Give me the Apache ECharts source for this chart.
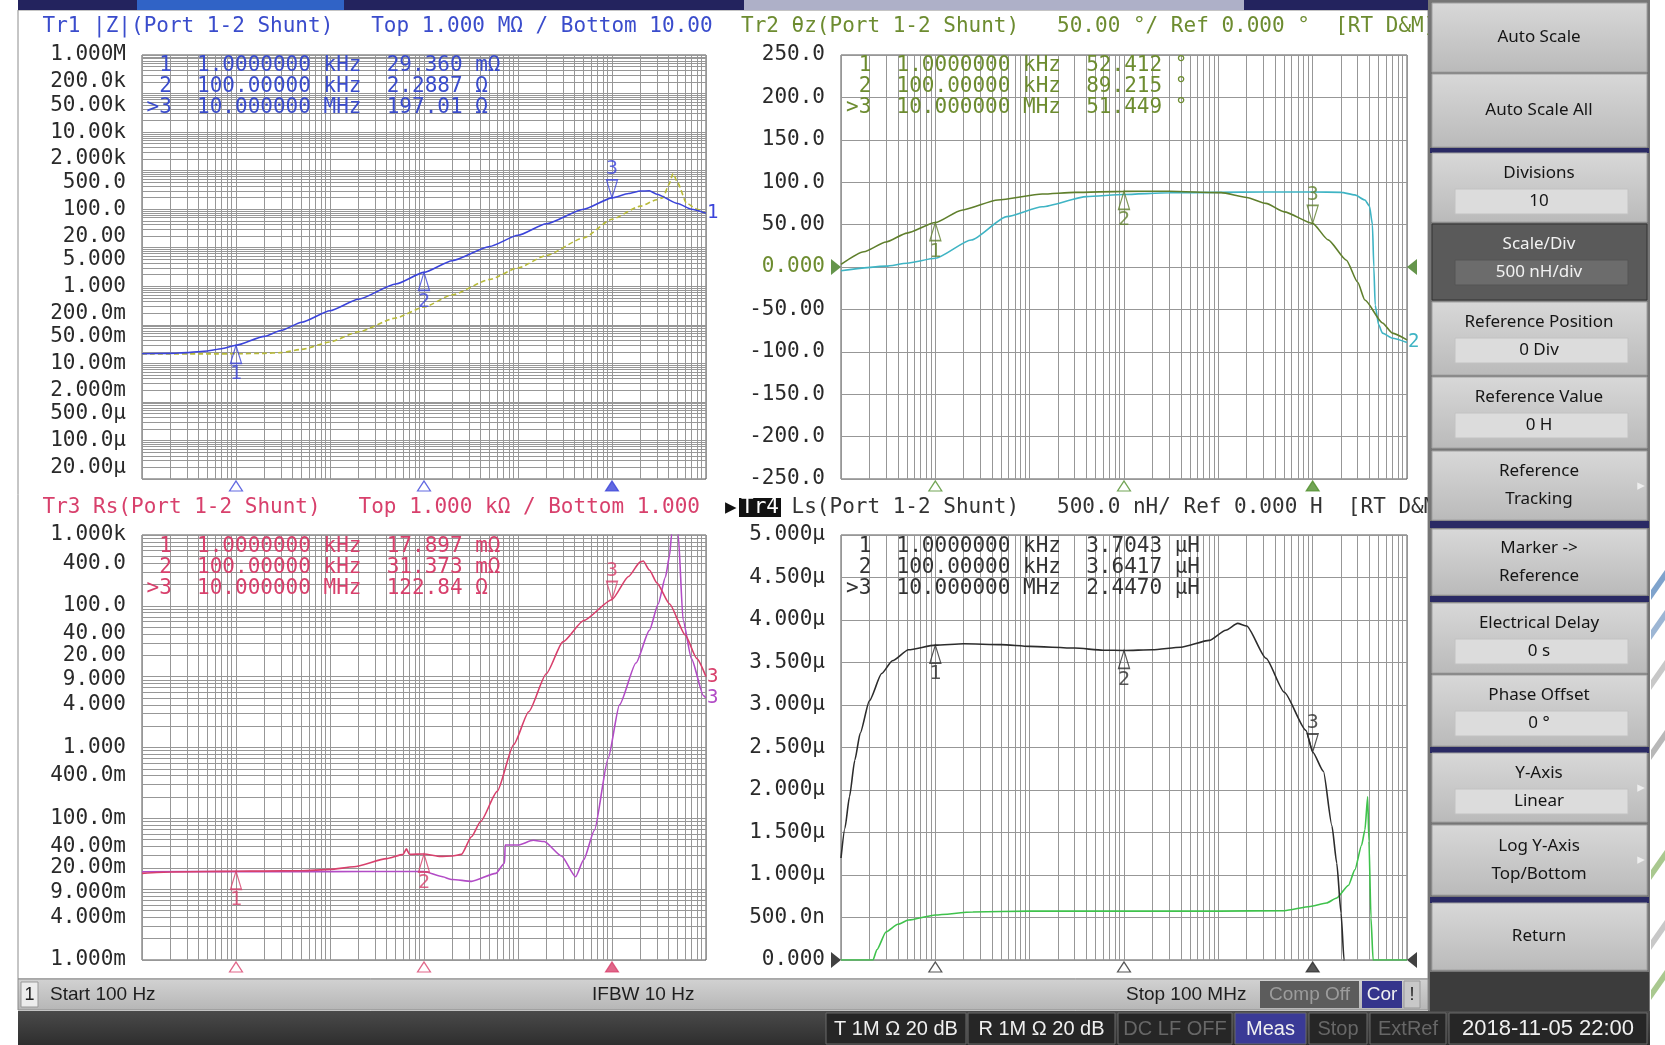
<!DOCTYPE html>
<html>
<head>
<meta charset="utf-8">
<title>E5061B impedance</title>
<script src="https://cdn.jsdelivr.net/npm/echarts@6/dist/echarts.min.js"></script>
<style>
    html, body {margin: 0; padding: 0; background: #fff;}
    #vna {width: 1665px; height: 1045px;}
</style>
</head>
<body>
<div id="vna"></div>
<script>
let vna_chart = echarts.init(document.getElementById('vna'));

// 标记点
let marker_freq = [1e3, 1e5, 1e7];
let tr1_marker = [0.02936, 2.2887, 197.01];
let tr2_marker = [52.412, 89.215, 51.449];
let tr3_marker = [0.017897, 0.031373, 122.84];
let tr4_marker = [3.7043, 3.6417, 2.4470];

// Tr1 |Z| (Ω) 实测 / 记忆
let tr1_freq = [100, 200, 300, 500, 700, 1e3, 2e3, 3e3, 5e3, 1e4, 2e4, 5e4, 1e5, 2e5, 5e5, 1e6, 2e6, 5e6, 1e7, 1.5e7, 2e7, 2.5e7, 3e7, 5e7, 7e7, 1e8];
let tr1_data = [0.0178, 0.0182, 0.019, 0.021, 0.024, 0.0294, 0.05, 0.071, 0.117, 0.232, 0.46, 1.15, 2.29, 4.6, 10.8, 21, 42, 100, 197, 255, 295, 300, 245, 140, 100, 78];
let tr1_mem_freq = [100, 500, 1e3, 2e3, 3e3, 5e3, 1e4, 2e4, 5e4, 1e5, 2e5, 5e5, 1e6, 2e6, 5e6, 1e7, 2e7, 3e7, 3.5e7, 4e7, 4.48e7, 5e7, 6.2e7, 8e7, 1e8];
let tr1_mem = [0.0176, 0.0176, 0.0177, 0.0182, 0.019, 0.023, 0.036, 0.066, 0.15, 0.29, 0.6, 1.5, 3.0, 6.3, 18, 55, 120, 175, 200, 420, 840, 480, 144, 100, 78];

// Tr2 θz (°)
let tr2_freq = [100, 175, 300, 500, 1e3, 1.9e3, 4.6e3, 1.36e4, 3e4, 1e5, 3e5, 1.07e6, 2e6, 3.2e6, 5e6, 1e7, 1.46e7, 2.28e7, 3e7, 3.58e7, 5.5e7, 7e7, 1e8];
let tr2_data = [3, 18, 29.5, 40, 52.4, 67, 79, 86, 88, 89.2, 89.3, 87.7, 82, 75, 65, 51.4, 32, 8, -18, -39, -66, -78, -86];
let tr2_mem_freq = [100, 300, 500, 1e3, 2.4e3, 5.7e3, 1.36e4, 4e4, 1e5, 3e5, 1e6, 3e6, 1e7, 2e7, 2.8e7, 3.58e7, 4e7, 4.3e7, 4.45e7, 4.6e7, 5e7, 5.5e7, 7e7, 1e8];
let tr2_mem = [-4.4, 1, 4.5, 10.3, 31.8, 59.4, 71, 83, 85.5, 87.5, 88, 88.5, 88.5, 88, 85, 79, 72, 50, 0, -45, -68, -78, -84, -89];

// Tr3 Rs (Ω)
let tr3_freq = [100, 200, 500, 1e3, 2e3, 5e3, 1e4, 1.8e4, 4e4, 6e4, 6.5e4, 7e4, 1e5, 1.5e5, 2e5, 2.5e5, 3.2e5, 4e5, 6e5, 9e5, 1.3e6, 2e6, 3e6, 5e6, 1e7, 1.5e7, 2e7, 2.15e7, 2.5e7, 3e7, 4.1e7, 6e7, 8e7, 1e8];
let tr3_data = [0.0167, 0.0175, 0.0178, 0.0179, 0.018, 0.0182, 0.019, 0.0207, 0.027, 0.031, 0.037, 0.031, 0.0314, 0.029, 0.0294, 0.031, 0.055, 0.09, 0.24, 1.1, 3.2, 11, 31, 62, 123, 260, 417, 430, 320, 211, 106, 39, 18, 10];
let tr3_mem_freq = [100, 1e3, 1e4, 5e4, 1e5, 1.5e5, 2e5, 3.2e5, 5.8e5, 7.2e5, 7.3e5, 1e6, 1.45e6, 1.9e6, 2.9e6, 4.1e6, 5e6, 6.5e6, 9.1e6, 1.2e7, 1.8e7, 2.5e7, 3.1e7, 3.7e7, 4.1e7, 4.3e7, 4.6e7, 5.07e7, 5.7e7, 7e7, 9.4e7, 1e8];
let tr3_mem = [0.0176, 0.0177, 0.0177, 0.0178, 0.0178, 0.0152, 0.0137, 0.0129, 0.0167, 0.0234, 0.042, 0.042, 0.049, 0.047, 0.0294, 0.015, 0.026, 0.068, 0.7, 4, 15.6, 45, 106, 254, 515, 1000, 2500, 1000, 63, 18, 5.4, 5];

// Tr4 Ls (μH)
let tr4_freq = [100, 110, 123, 140, 160, 200, 270, 350, 520, 1e3, 2e3, 5e3, 1e4, 3e4, 6e4, 1e5, 2e5, 4e5, 8e5, 1.2e6, 1.6e6, 2e6, 3.2e6, 5e6, 8.5e6, 1e7, 1.3e7, 1.6e7, 1.8e7, 2e7, 2.15e7, 2.3e7];
let tr4_data = [1.2, 1.55, 1.92, 2.35, 2.67, 3.05, 3.37, 3.52, 3.65, 3.704, 3.72, 3.71, 3.69, 3.67, 3.645, 3.642, 3.65, 3.68, 3.76, 3.88, 3.96, 3.93, 3.55, 3.15, 2.7, 2.447, 2.22, 1.58, 1.14, 0.55, 0, -0.6];
let tr4_mem_freq = [100, 218, 240, 300, 400, 520, 1e3, 2.5e3, 1e4, 1e5, 1e6, 5e6, 9.4e6, 1.4e7, 1.8e7, 2.4e7, 2.8e7, 3.3e7, 3.58e7, 3.83e7, 3.95e7, 4.15e7, 4.37e7, 1e8];
let tr4_mem = [0, 0, 0.12, 0.33, 0.42, 0.47, 0.53, 0.565, 0.575, 0.575, 0.575, 0.58, 0.63, 0.67, 0.73, 0.88, 1.06, 1.35, 1.53, 1.92, 1.4, 0.5, 0, 0];

// 纵轴刻度
let z_ticks = [1e6, 2e5, 5e4, 1e4, 2e3, 500, 100, 20, 5, 1, 0.2, 0.05, 0.01, 0.002, 5e-4, 1e-4, 2e-5];
let z_tick_text = ['1.000M', '200.0k', '50.00k', '10.00k', '2.000k', '500.0', '100.0', '20.00', '5.000', '1.000', '200.0m', '50.00m', '10.00m', '2.000m', '500.0μ', '100.0μ', '20.00μ'];
let theta_ticks = [250, 200, 150, 100, 50, 0, -50, -100, -150, -200, -250];
let theta_tick_text = ['250.0', '200.0', '150.0', '100.0', '50.00', '0.000', '-50.00', '-100.0', '-150.0', '-200.0', '-250.0'];
let rs_ticks = [1000, 400, 100, 40, 20, 9, 4, 1, 0.4, 0.1, 0.04, 0.02, 0.009, 0.004, 0.001];
let rs_tick_text = ['1.000k', '400.0', '100.0', '40.00', '20.00', '9.000', '4.000', '1.000', '400.0m', '100.0m', '40.00m', '20.00m', '9.000m', '4.000m', '1.000m'];
let ls_ticks = [5, 4.5, 4, 3.5, 3, 2.5, 2, 1.5, 1, 0.5, 0];
let ls_tick_text = ['5.000μ', '4.500μ', '4.000μ', '3.500μ', '3.000μ', '2.500μ', '2.000μ', '1.500μ', '1.000μ', '500.0n', '0.000'];

// 标题与标记读数
let titles = [
    'Tr1 |Z|(Port 1-2 Shunt)   Top 1.000 MΩ / Bottom 10.00',
    'Tr2 θz(Port 1-2 Shunt)   50.00 °/ Ref 0.000 °  [RT D&M]',
    'Tr3 Rs(Port 1-2 Shunt)   Top 1.000 kΩ / Bottom 1.000',
    'Ls(Port 1-2 Shunt)   500.0 nH/ Ref 0.000 H  [RT D&M]'
];
let readouts = [
    [' 1  1.0000000 kHz  29.360 mΩ', ' 2  100.00000 kHz  2.2887 Ω', '>3  10.000000 MHz  197.01 Ω'],
    [' 1  1.0000000 kHz  52.412 °', ' 2  100.00000 kHz  89.215 °', '>3  10.000000 MHz  51.449 °'],
    [' 1  1.0000000 kHz  17.897 mΩ', ' 2  100.00000 kHz  31.373 mΩ', '>3  10.000000 MHz  122.84 Ω'],
    [' 1  1.0000000 kHz  3.7043 μH', ' 2  100.00000 kHz  3.6417 μH', '>3  10.000000 MHz  2.4470 μH']
];

const MONO = '"DejaVu Sans Mono", "Liberation Mono", monospace';
const SANS = '"Noto Sans", "DejaVu Sans", sans-serif';
const NARROW = '"Liberation Sans Narrow", "Liberation Sans", sans-serif';
const GRID_COLOR = '#979797';
const LABEL_COLOR = '#2a2a2a';

const C_BLUE = '#3b44da', C_BLUE_T = '#3a4ccc', C_YELLOW = '#b8ba38';
const C_OLIVE = '#5f7f2c', C_OLIVE_T = '#6d8c30', C_CYAN = '#3fb4c4';
const C_RED = '#d8406c', C_VIOLET = '#b24cc6';
const C_BLACK = '#2c2c2c', C_GREEN = '#3fc24c';

const TRI_UP = 'path://M5,0L10,18L0,18Z';
const TRI_DOWN = 'path://M0,0L10,0L5,18Z';
const TRI_RIGHT = 'path://M0,0L10,8L0,16Z';
const TRI_LEFT = 'path://M10,0L0,8L10,16Z';

function pairs(freq, vals) {
    return freq.map((f, i) => [f, vals[i]]);
}

// 网格线位置 1..9 × 10^n
function log_grid(lo, hi) {
    let out = [];
    for (let e = lo; e < hi; e++) {
        for (let m = 1; m < 10; m++) {
            out.push(m * Math.pow(10, e));
        }
    }
    out.push(Math.pow(10, hi));
    return out;
}

let x_grid = log_grid(2, 8);
let z_grid = log_grid(-5, 6);
let rs_grid = log_grid(-3, 3);

function label_of(ticks, texts, is_log) {
    return function (v) {
        for (let i = 0; i < ticks.length; i++) {
            let d = is_log ? Math.abs(Math.log10(v) - Math.log10(ticks[i])) : Math.abs(v - ticks[i]);
            if (d < 1e-3) return texts[i];
        }
        return '';
    };
}

let label_base = {fontFamily: MONO, fontSize: 21, color: LABEL_COLOR, margin: 16};

function freq_axis(gi) {
    return {
        type: 'log', logBase: 10, gridIndex: gi, min: 100, max: 1e8,
        axisLine: {show: false},
        axisLabel: {show: false},
        axisTick: {show: false, customValues: x_grid},
        splitLine: {show: true, lineStyle: {color: GRID_COLOR, width: 1}}
    };
}

function log_axis(gi, lo, hi, grid_vals, ticks, texts) {
    return {
        type: 'log', logBase: 10, gridIndex: gi, min: lo, max: hi,
        axisLine: {show: false},
        axisTick: {show: false, customValues: grid_vals},
        axisLabel: Object.assign({customValues: ticks, formatter: label_of(ticks, texts, true)}, label_base),
        splitLine: {show: true, lineStyle: {color: GRID_COLOR, width: 1}}
    };
}

function lin_axis(gi, lo, hi, step, ticks, texts, color_fn) {
    let lbl = Object.assign({formatter: label_of(ticks, texts, false)}, label_base);
    if (color_fn) lbl.color = color_fn;
    return {
        type: 'value', gridIndex: gi, min: lo, max: hi, interval: step,
        axisLine: {show: false},
        axisTick: {show: false},
        axisLabel: lbl,
        splitLine: {show: true, lineStyle: {color: GRID_COLOR, width: 1}}
    };
}

function trace(gi, freq, vals, color, extra) {
    return Object.assign({
        type: 'line', xAxisIndex: gi, yAxisIndex: gi,
        data: pairs(freq, vals),
        symbol: 'none', smooth: 0.2, smoothMonotone: 'x',
        lineStyle: {color: color, width: 1.6},
        itemStyle: {color: color},
        silent: true, z: 3
    }, extra || {});
}

function end_label(text, color) {
    return {show: true, formatter: text, color: color, fontFamily: MONO, fontSize: 19, distance: 1};
}

// 曲线上的标记三角
function marker_series(gi, vals, color) {
    let data = [];
    for (let i = 0; i < marker_freq.length; i++) {
        let active = i === 2;
        data.push({
            value: [marker_freq[i], vals[i]],
            symbol: active ? TRI_DOWN : TRI_UP,
            symbolOffset: active ? [0, -9] : [0, 9],
            label: {position: active ? 'top' : 'bottom', formatter: String(i + 1)}
        });
    }
    return {
        type: 'scatter', xAxisIndex: gi, yAxisIndex: gi, data: data,
        symbolSize: [11, 18], clip: false, silent: true, z: 6,
        itemStyle: {color: 'rgba(255,255,255,0)', borderColor: color, borderWidth: 1.4},
        label: {show: true, color: color, fontFamily: MONO, fontSize: 20, distance: 0}
    };
}

// 图框下方的标记位置
function foot_series(gi, ybase, color) {
    return {
        type: 'scatter', xAxisIndex: gi, yAxisIndex: gi, clip: false, silent: true, z: 6,
        symbol: TRI_UP, symbolSize: [13, 10], symbolOffset: [0, 7],
        data: marker_freq.map((f, i) => ({value: [f, ybase], itemStyle: {color: i === 2 ? color : '#fff'}})),
        itemStyle: {borderColor: color, borderWidth: 1.2}
    };
}

// 参考线三角
function ref_series(gi, yref, color) {
    return {
        type: 'scatter', xAxisIndex: gi, yAxisIndex: gi, clip: false, silent: true, z: 6,
        symbolSize: [10, 16],
        data: [
            {value: [100, yref], symbol: TRI_RIGHT, symbolOffset: [-5, 0]},
            {value: [1e8, yref], symbol: TRI_LEFT, symbolOffset: [5, 0]}
        ],
        itemStyle: {color: color}
    };
}

// ---------- 画面装饰 ----------
let gfx = [];

function box(x, y, w, h, fill, stroke, z) {
    return {type: 'rect', z: z, silent: true, shape: {x: x, y: y, width: w, height: h},
        style: {fill: fill, stroke: stroke || null, lineWidth: 1}};
}

function txt(x, y, s, color, size, family, align, z, weight) {
    return {type: 'text', x: x, y: y, z: z || 20, silent: true,
        style: {text: s, fill: color, fontSize: size, fontFamily: family, fontWeight: weight || 'normal',
            textAlign: align || 'left', textVerticalAlign: 'middle', align: align || 'left', verticalAlign: 'middle'}};
}

function vgrad(c0, c1) {
    return {type: 'linear', x: 0, y: 0, x2: 0, y2: 1, colorStops: [{offset: 0, color: c0}, {offset: 1, color: c1}]};
}

gfx.push(box(18, 10, 1410, 969, '#ffffff', '#8c8c8c', -20));
gfx.push(box(18, 0, 1410, 10, '#23235e', null, -19));
gfx.push(box(137, 0, 207, 10, '#3063c6', null, -18));
gfx.push(box(744, 0, 500, 10, '#aeb0c8', null, -18));

// 右侧装饰条纹
[['#7fa3cc', 600], ['#9db6d4', 640], ['#c8c8c8', 690], ['#b8b8b8', 760], ['#a9c88f', 880], ['#c8c8c8', 950], ['#a9c88f', 1000]].forEach(function (s) {
    gfx.push({type: 'polygon', z: -19, silent: true,
        shape: {points: [[1665, s[1] - 30], [1665, s[1] - 20], [1651, s[1]], [1651, s[1] - 10]]},
        style: {fill: s[0]}});
});

// 标题
let title_pos = [[42.5, 26.5], [741, 26.5], [42.5, 507.5]];
let title_color = [C_BLUE_T, C_OLIVE_T, C_RED];
for (let i = 0; i < 3; i++) {
    gfx.push(txt(title_pos[i][0], title_pos[i][1], titles[i], title_color[i], 21, MONO));
}
gfx.push(txt(725, 507.5, '▶', '#111', 15, SANS));
gfx.push(box(739, 498, 42, 19, '#111', null, 19));
gfx.push(txt(741, 507.5, 'Tr4', '#ffffff', 21, MONO));
gfx.push(txt(741 + 4 * 12.64, 507.5, titles[3], '#333', 21, MONO));

// 标记读数
let readout_x = [146.5, 846, 146.5, 846];
let readout_y = [[66, 87, 107.5], [66, 87, 107.5], [547, 568, 588.5], [547, 568, 588.5]];
let readout_color = [C_BLUE_T, C_OLIVE_T, C_RED, '#333'];
for (let p = 0; p < 4; p++) {
    for (let r = 0; r < 3; r++) {
        gfx.push(txt(readout_x[p], readout_y[p][r], readouts[p][r], readout_color[p], 21, MONO));
    }
}

// 软键区
gfx.push(box(1428, 0, 222, 1011, '#767676', null, 30));
function softkey(y0, y1, lines, value, opt) {
    opt = opt || {};
    let dark = !!opt.dark;
    gfx.push({type: 'rect', z: 31, silent: true, shape: {x: 1432, y: y0, width: 215, height: y1 - y0},
        style: {fill: dark ? '#5a5a5a' : vgrad('#d8d8d8', '#bababa'), stroke: dark ? '#333' : '#a0a0a0', lineWidth: 1}});
    let fg = dark ? '#f2f2f2' : '#151515';
    if (value !== null) {
        gfx.push(txt(1539, y0 + 20, lines[0], fg, 17, SANS, 'center', 33));
        gfx.push({type: 'rect', z: 32, silent: true, shape: {x: 1455, y: y0 + 36, width: 173, height: 25},
            style: {fill: dark ? '#6c6c6c' : '#dcdcdc', stroke: dark ? '#555' : '#c2c2c2', lineWidth: 1}});
        gfx.push(txt(1539, y0 + 48.5, value, fg, 17, SANS, 'center', 33));
    } else if (lines.length === 2) {
        let cy = (y0 + y1) / 2;
        gfx.push(txt(1539, cy - 14, lines[0], fg, 17, SANS, 'center', 33));
        gfx.push(txt(1539, cy + 14, lines[1], fg, 17, SANS, 'center', 33));
    } else {
        gfx.push(txt(1539, (y0 + y1) / 2, lines[0], fg, 17, SANS, 'center', 33));
    }
    if (opt.arrow) {
        gfx.push(txt(1641, (y0 + y1) / 2, '▸', '#eeeeee', 15, SANS, 'center', 33));
    }
}
function separator(y0, h) {
    gfx.push(box(1430, y0, 219, h, '#2a2a64', null, 31));
}
softkey(3, 72, ['Auto Scale'], null);
softkey(74, 147, ['Auto Scale All'], null);
separator(148, 5);
softkey(153, 222, ['Divisions'], '10');
softkey(224, 300, ['Scale/Div'], '500 nH/div', {dark: true});
softkey(302, 375, ['Reference Position'], '0 Div');
softkey(377, 448, ['Reference Value'], '0 H');
softkey(451, 520, ['Reference', 'Tracking'], null, {arrow: true});
separator(521, 7);
softkey(529, 595, ['Marker ->', 'Reference'], null);
separator(596, 6);
softkey(603, 673, ['Electrical Delay'], '0 s');
softkey(675, 746, ['Phase Offset'], '0 °');
separator(747, 6);
softkey(753, 822, ['Y-Axis'], 'Linear', {arrow: true});
softkey(825, 895, ['Log Y-Axis', 'Top/Bottom'], null, {arrow: true});
separator(897, 6);
softkey(903, 970, ['Return'], null);
gfx.push(box(1430, 972, 219, 39, '#3c3c3c', null, 31));

// 状态栏
gfx.push({type: 'rect', z: 30, silent: true, shape: {x: 18, y: 979, width: 1410, height: 31},
    style: {fill: vgrad('#d2d2d2', '#b6b6b6'), stroke: '#8a8a8a', lineWidth: 1}});
gfx.push(box(21, 982, 17, 25, '#ececec', '#999', 31));
gfx.push(txt(29.5, 995, '1', '#222', 18, NARROW, 'center', 32));
gfx.push(txt(50, 995, 'Start 100 Hz', '#1e1e1e', 19, NARROW, 'left', 32));
gfx.push(txt(592, 995, 'IFBW 10 Hz', '#1e1e1e', 19, NARROW, 'left', 32));
gfx.push(txt(1126, 995, 'Stop 100 MHz', '#1e1e1e', 19, NARROW, 'left', 32));
gfx.push(box(1260, 981, 99, 27, '#5c5c5c', null, 31));
gfx.push(txt(1309.5, 995, 'Comp Off', '#9c9c9c', 19, NARROW, 'center', 32));
gfx.push(box(1362, 981, 40, 27, '#35358c', null, 31));
gfx.push(txt(1382, 995, 'Cor', '#f0f0f0', 19, NARROW, 'center', 32));
gfx.push(box(1404, 981, 16, 27, '#c8c8c8', '#999', 31));
gfx.push(txt(1412, 995, '!', '#222', 18, NARROW, 'center', 32));

// 底部信息条
gfx.push({type: 'rect', z: 30, silent: true, shape: {x: 18, y: 1011, width: 1632, height: 34},
    style: {fill: vgrad('#4a4a4a', '#2e2e2e')}});
let bar_items = [
    [826, 140, 'T 1M Ω 20 dB', '#f0f0f0', '#262626'],
    [968, 147, 'R 1M Ω 20 dB', '#f0f0f0', '#262626'],
    [1118, 114, 'DC LF OFF', '#676767', '#262626'],
    [1235, 71, 'Meas', '#f0f0f0', '#3a3a96'],
    [1309, 58, 'Stop', '#676767', '#262626'],
    [1370, 76, 'ExtRef', '#676767', '#262626'],
    [1449, 198, '2018-11-05 22:00', '#f0f0f0', '#262626']
];
bar_items.forEach(function (b) {
    gfx.push(box(b[0], 1013, b[1], 31, b[4], '#6a6a6a', 31));
    gfx.push(txt(b[0] + b[1] / 2, 1029, b[2], b[3], b[2].length > 12 ? 22 : 20, NARROW, 'center', 32));
});

// ---------- 图表配置 ----------
let grid_base = {show: true, borderColor: '#555', borderWidth: 1, backgroundColor: '#fff', containLabel: false};

let option_vna = {
    animation: false,
    backgroundColor: '#ffffff',
    grid: [
        Object.assign({left: 142, top: 55, width: 564, height: 424}, grid_base),
        Object.assign({left: 841, top: 55, width: 566, height: 424}, grid_base),
        Object.assign({left: 142, top: 535, width: 564, height: 425}, grid_base),
        Object.assign({left: 841, top: 535, width: 566, height: 425}, grid_base)
    ],
    xAxis: [freq_axis(0), freq_axis(1), freq_axis(2), freq_axis(3)],
    yAxis: [
        log_axis(0, 1e-5, 1e6, z_grid, z_ticks, z_tick_text),
        lin_axis(1, -250, 250, 50, theta_ticks, theta_tick_text, function (v) {
            return Math.abs(v) < 1e-6 ? C_OLIVE_T : LABEL_COLOR;
        }),
        log_axis(2, 1e-3, 1e3, rs_grid, rs_ticks, rs_tick_text),
        lin_axis(3, 0, 5, 0.5, ls_ticks, ls_tick_text)
    ],
    series: [
        trace(0, tr1_mem_freq, tr1_mem, C_YELLOW, {lineStyle: {color: C_YELLOW, width: 1.6, type: [5, 3]}}),
        trace(0, tr1_freq, tr1_data, C_BLUE, {endLabel: end_label('1', C_BLUE)}),
        trace(1, tr2_mem_freq, tr2_mem, C_CYAN, {endLabel: end_label('2', C_CYAN)}),
        trace(1, tr2_freq, tr2_data, C_OLIVE),
        trace(2, tr3_mem_freq, tr3_mem, C_VIOLET, {endLabel: end_label('3', C_VIOLET)}),
        trace(2, tr3_freq, tr3_data, C_RED, {endLabel: end_label('3', C_RED)}),
        trace(3, tr4_mem_freq, tr4_mem, C_GREEN),
        trace(3, tr4_freq, tr4_data, C_BLACK),
        marker_series(0, tr1_marker, C_BLUE),
        marker_series(1, tr2_marker, C_OLIVE),
        marker_series(2, tr3_marker, C_RED),
        marker_series(3, tr4_marker, C_BLACK),
        foot_series(0, 1e-5, C_BLUE),
        foot_series(1, -250, '#4f8f2a'),
        foot_series(2, 1e-3, C_RED),
        foot_series(3, 0, C_BLACK),
        ref_series(1, 0, '#3f7a1e'),
        ref_series(3, 0, '#111')
    ],
    graphic: {elements: gfx}
};

vna_chart.setOption(option_vna);
</script>
</body>
</html>
